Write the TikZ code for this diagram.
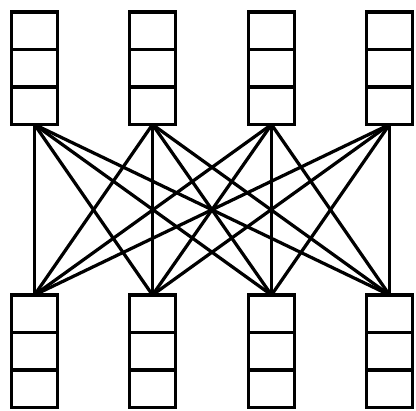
\documentclass[tikz,border=0pt]{standalone}
\usepackage{tikz}
\usetikzlibrary{positioning}
\tikzset{%
  cell/.style={draw,line width=2.8pt,minimum width=1.15cm,minimum height=0.9375cm,inner sep=0pt,outer sep=0pt,fill=white},
  link/.style={line width=2.3pt}%
}

\begin{document}
\begin{tikzpicture}[x=0.025cm,y=-0.025cm]
\useasboundingbox (0,0) rectangle (416,410);

% Top and bottom stacks of three cells
\foreach \i/\x in {1/34.5,2/152.5,3/271.5,4/389.5}{
  \node[cell] (top\i-1) at (\x,30.75) {};
  \node[cell, below=0pt of top\i-1] (top\i-2) {};
  \node[cell, below=0pt of top\i-2] (top\i-3) {};
  \node[cell] (bot\i-1) at (\x,313.75) {};
  \node[cell, below=0pt of bot\i-1] (bot\i-2) {};
  \node[cell, below=0pt of bot\i-2] (bot\i-3) {};
}

% Full connections
\foreach \i in {1,...,4}{
  \foreach \j in {1,...,4}{
    \draw[link] (top\i-3.south) -- (bot\j-1.north);
  }
}

\end{tikzpicture}
\end{document}
